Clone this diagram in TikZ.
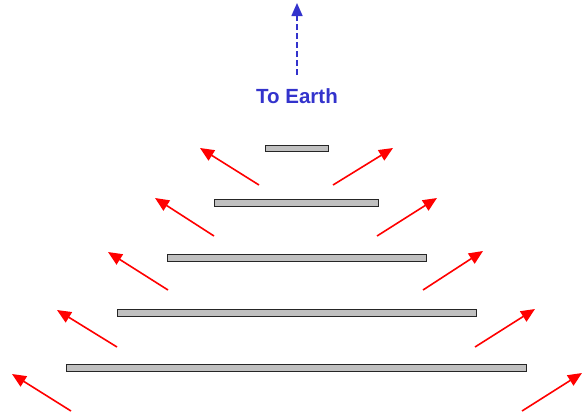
\documentclass[tikz,border=0pt]{standalone}
\usepackage{fontspec}
\setmainfont{Liberation Sans}
\usetikzlibrary{arrows.meta}
\definecolor{earthblue}{RGB}{51,51,204}
\definecolor{bargray}{RGB}{192,192,192}
\begin{document}
\begin{tikzpicture}[x=1pt,y=-1pt,
  bar/.style={draw=black!85,fill=bargray,line width=1.3pt,rectangle,inner sep=0pt,anchor=north west},
  ray/.style={draw=red,line width=1.6pt,-{Triangle[length=14pt,width=12pt]}},
  earth/.style={draw=earthblue,line width=1.6pt,dash pattern=on 6pt off 3pt,-{Triangle[length=13pt,width=11pt]}}]
\useasboundingbox (0,0) rectangle (585,416);
% bars
\node[bar,minimum width=63pt,minimum height=6pt] (b1) at (265,145) {};
\node[bar,minimum width=164pt,minimum height=7pt] (b2) at (214,199) {};
\node[bar,minimum width=259pt,minimum height=7pt] (b3) at (167,254) {};
\node[bar,minimum width=359pt,minimum height=7pt] (b4) at (117,309) {};
\node[bar,minimum width=460pt,minimum height=7pt] (b5) at (66,364) {};
% ray endpoints
\coordinate (l1s) at (259,185); \coordinate (l1e) at (200,148);
\coordinate (l2s) at (214,236); \coordinate (l2e) at (155,198);
\coordinate (l3s) at (168,290); \coordinate (l3e) at (108,252);
\coordinate (l4s) at (117,347); \coordinate (l4e) at (57,310);
\coordinate (l5s) at (71,411);  \coordinate (l5e) at (12,374);
\coordinate (r1s) at (333,185); \coordinate (r1e) at (393,148);
\coordinate (r2s) at (377,236); \coordinate (r2e) at (437,198);
\coordinate (r3s) at (423,290); \coordinate (r3e) at (483,251);
\coordinate (r4s) at (475,347); \coordinate (r4e) at (535,309);
\coordinate (r5s) at (522,411); \coordinate (r5e) at (582,373);
\foreach \i in {1,...,5} {
  \draw[ray] (l\i s) -- (l\i e);
  \draw[ray] (r\i s) -- (r\i e);
}
% earth
\node[text=earthblue,font=\bfseries\fontsize{20.5}{22}\selectfont] (txt) at (297,96) {To Earth};
\coordinate (es) at (297,75);
\coordinate (ee) at (297,3);
\draw[earth] (es) -- (ee);
\end{tikzpicture}
\end{document}
